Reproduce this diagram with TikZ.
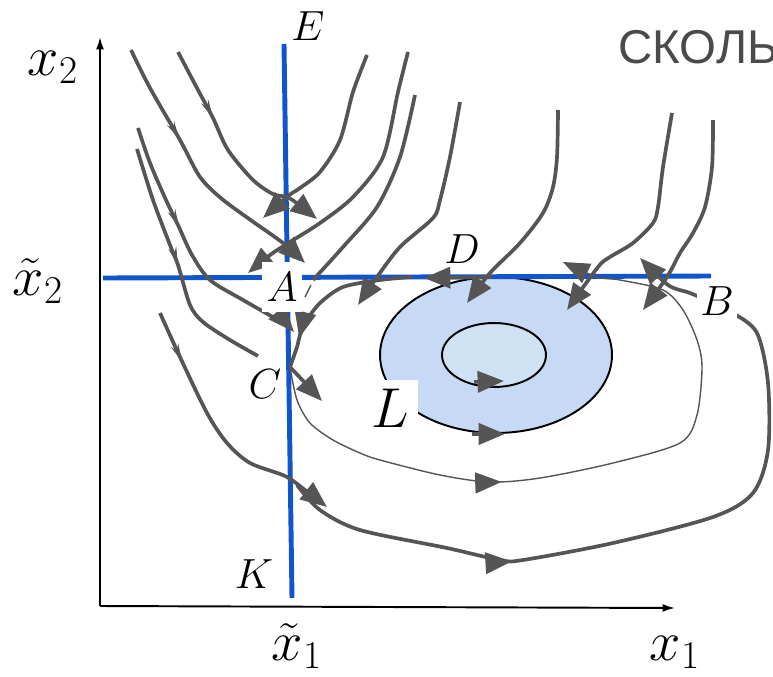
\RequirePackage{fix-cm}
\documentclass[tikz,border=0pt]{standalone}
\usepackage{fontspec}
\newfontfamily\cyrfont{Liberation Sans}
\usetikzlibrary{arrows.meta, calc, decorations.markings, shapes.geometric}

\definecolor{swblue}{HTML}{1155CC}
\definecolor{trajgray}{HTML}{555555}
\definecolor{ringfill}{HTML}{C6D9F5}
\definecolor{corefill}{HTML}{CFE2F3}
\definecolor{capgray}{HTML}{4A4A4A}

\tikzset{
  traj/.style={color=trajgray, line width=2.1pt},
  thintraj/.style={color=trajgray, line width=0.8pt},
  swline/.style={draw=swblue, line width=2.8pt},
  axisline/.style={draw=black, line width=1.1pt, -{Latex[length=7pt,width=4.5pt]}},
  tohead/.style={-{Triangle[length=15pt,width=12pt]}},
  midhead/.style={postaction={decorate}, decoration={markings,
      mark=at position #1 with {\arrow{Triangle[length=15pt,width=12pt]}}}},
  smallbarb/.style={postaction={decorate}, decoration={markings,
      mark=at position #1 with {\arrow{Stealth[length=10pt,width=4.5pt]}}}},
  ptlabel/.style={fill=white, inner sep=2pt, font=\fontsize{24}{24}\selectfont},
  axlabel/.style={inner sep=0pt, font=\fontsize{32}{32}\selectfont},
}

\begin{document}
\begin{tikzpicture}[x=0.02cm, y=-0.02cm, line join=round]
  \useasboundingbox (0,0) rectangle (773,676);
  % Limit cycle region
  \node[ellipse, draw, line width=1.1pt, fill=ringfill, minimum width=4.64cm,
        minimum height=3.12cm, inner sep=0pt] (ring) at (496,355) {};
  \node[ellipse, draw, line width=1.1pt, fill=corefill, minimum width=2.08cm,
        minimum height=1.28cm, inner sep=0pt] (core) at (494,355) {};
  % Axes
  \coordinate (O) at (100,606);
  \coordinate (Ytip) at (100,37);
  \coordinate (Xtip) at (675,608);
  \draw[axisline] (O) -- (Ytip);
  \draw[axisline] (O) -- (Xtip);
  % Switching lines
  \coordinate (Etop) at (284,44);
  \coordinate (Kbot) at (292,598);
  \coordinate (Hleft) at (103,278);
  \coordinate (Hright) at (711,276);
  \draw[swline] (Etop) -- (Kbot);
  \draw[swline] (Hleft) -- (Hright);
  % Trajectories from above
  \draw[traj, tohead, smallbarb=0.36] plot[smooth] coordinates {(131,50) (150,88) (180,140) (200,177) (222,199) (252,221) (283,243) (305,263)};
  \draw[traj, tohead, smallbarb=0.33] plot[smooth] coordinates {(178,52) (198,90) (213,118) (228,150) (253,180) (273,194) (287,197) (298,204) (317,219)};
  \draw[traj, tohead] plot[smooth] coordinates {(367,55) (353,92) (340,140) (320,172) (300,188) (288,196) (263,218)};
  \draw[traj, tohead] plot[smooth] coordinates {(408,52) (398,92) (383,157) (353,197) (320,223) (290,242) (270,255) (248,273)};
  \draw[traj] plot[smooth] coordinates {(415,95) (400,157) (377,207) (343,247) (313,280)};
  \draw[thintraj] (311,285) -- (305,297);
  \draw[traj, tohead] plot[smooth] coordinates {(460,102) (450,157) (440,200) (433,218) (400,247) (377,277) (358,305)};
  \draw[traj, tohead] plot[smooth] coordinates {(558,110) (557,157) (553,187) (543,213) (520,243) (490,273) (467,303)};
  \draw[traj, tohead] plot[smooth] coordinates {(672,113) (663,167) (658,207) (653,223) (633,243) (610,257) (598,267) (567,310)};
  \draw[traj, tohead] plot[smooth] coordinates {(713,120) (712,167) (705,207) (693,233) (680,253) (667,277) (643,310)};
  % Trajectories from the left
  \draw[traj, tohead, smallbarb=0.4] plot[smooth] coordinates {(138,128) (150,163) (166,200) (178,225) (192,255) (210,280) (243,300) (283,323) (294,332)};
  \draw[traj, smallbarb=0.49] plot[smooth] coordinates {(137,149) (153,200) (170,245) (178,265) (190,305) (203,322) (230,340) (258,356)};
  % Sliding along the lines
  \coordinate (Cpt) at (290,367);
  \draw[traj, midhead=0.82] plot[smooth] coordinates {(412,277) (380,280) (343,287) (320,303) (307,320) (300,335) (297,347) (290,367)};
  \draw[traj, tohead] (492,277) -- (424,278);
  \draw[traj, tohead] (Cpt) -- (322,401);
  % Outer loop
  \draw[traj, tohead, smallbarb=0.2] plot[smooth] coordinates {(160,313) (180,357) (207,413) (227,443) (250,463) (285,476) (305,490) (327,507)};
  \draw[traj, tohead, midhead=0.295] plot[smooth] coordinates {(297,485) (320,510) (360,530) (447,548) (500,560) (523,560) (613,543) (713,517) (753,493) (768,450) (768,383) (757,333) (733,313) (713,303) (690,293) (668,285) (640,258)};
  % Thin loop from C
  \draw[thintraj, tohead, midhead=0.365] plot[smooth] coordinates {(290,367) (297,400) (310,423) (333,440) (360,453) (380,460) (440,475) (490,482) (540,478) (613,463) (680,443) (697,415) (702,367) (697,340) (683,310) (663,290) (620,280) (597,277) (563,262)};
  % Arrows on the cycles
  \draw[traj, tohead] ($(ring.south)+(-24,0)$) -- ($(ring.south)+(9,0)$);
  \draw[traj, tohead] ($(core.south)+(-20,-6)$) -- ($(core.south)+(10,-7)$);
  % Labels
  \node[ptlabel, anchor=base] (E) at (308,40) {$E$};
  \node[ptlabel, minimum width=0.8cm, minimum height=1cm] (A) at (282,287) {$A$};
  \node[ptlabel, anchor=base] (D) at (462,263) {$D$};
  \node[ptlabel, anchor=base] (B) at (717,315) {$B$};
  \node[ptlabel, anchor=base] (C) at (265,398) {$C$};
  \node[ptlabel, anchor=base] (K) at (254,588) {$K$};
  \node[ptlabel, anchor=base, inner sep=5pt, font=\fontsize{32}{32}\selectfont] (L) at (390,427) {$L$};
  \node[axlabel, anchor=base] (x2) at (53,75) {$x_2$};
  \node[axlabel, anchor=base] (x2t) at (38,295) {$\tilde{x}_2$};
  \node[axlabel, anchor=base] (x1t) at (297,660) {$\tilde{x}_1$};
  \node[axlabel, anchor=base] (x1) at (675,660) {$x_1$};
  \node[anchor=base west, inner sep=0pt, text=capgray, font=\cyrfont\fontsize{27}{27}\selectfont] (slide) at (618,63) {СКОЛЬ};
\end{tikzpicture}
\end{document}
